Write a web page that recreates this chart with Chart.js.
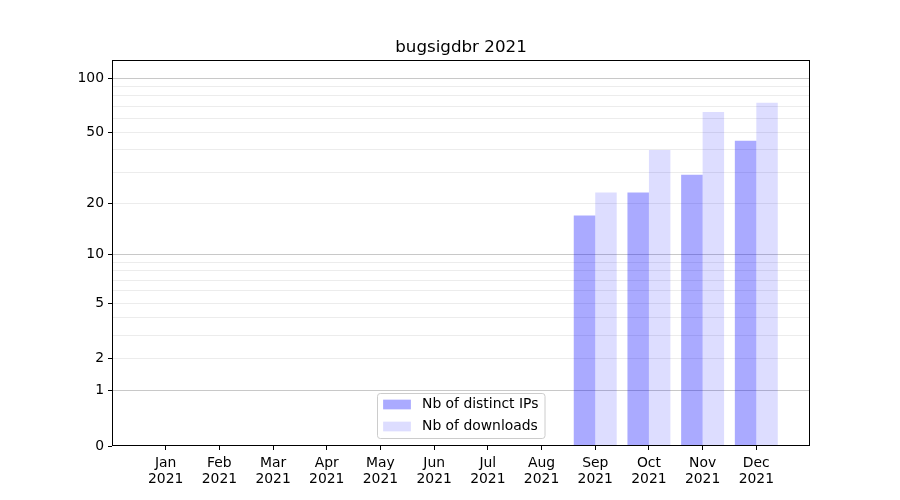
<!DOCTYPE html>
<html>
<head>
<meta charset="utf-8">
<script src="https://cdn.jsdelivr.net/npm/chart.js@4"></script>
<style>
  html, body { margin: 0; padding: 0; background: #ffffff; }
  #wrap { width: 900px; height: 500px; }
</style>
</head>
<body>
<div id="wrap"><canvas id="c" width="900" height="500"></canvas></div>
<script>
// ---- data ----
const chartTitle = 'bugsigdbr 2021';
const months = ['Jan', 'Feb', 'Mar', 'Apr', 'May', 'Jun', 'Jul', 'Aug', 'Sep', 'Oct', 'Nov', 'Dec'];
const year = '2021';
const distinctIPs = [0, 0, 0, 0, 0, 0, 0, 0, 17, 23, 29, 45];
const downloads = [0, 0, 0, 0, 0, 0, 0, 0, 23, 40, 65, 73];
const seriesNames = ['Nb of distinct IPs', 'Nb of downloads'];
const yLabelTicks = [0, 1, 2, 5, 10, 20, 50, 100];
const yMajorGrid = [1, 10, 100];
const yMinorTicks = [3, 4, 6, 7, 8, 9, 30, 40, 60, 70, 80, 90];
const yAxisMax = 125.6;

// log(1+x) transform used by the reference's y axis
const tf = v => Math.log10(v + 1);

const FONT = "'DejaVu Sans', 'Liberation Sans', sans-serif";
const FS = 13.9;

const xLabels = [''].concat(months.map(m => [m, year])).concat(['']);
const pad = arr => [null].concat(arr.map(tf)).concat([null]);

const allYTicks = yLabelTicks.concat(yMinorTicks).sort((a, b) => a - b);

const colors = ['rgba(0,0,255,0.333)', 'rgba(0,0,255,0.133)'];

const framePlugin = {
  id: 'frame',
  afterDraw(chart) {
    const ctx = chart.ctx, a = chart.chartArea;
    ctx.save();
    // title
    ctx.fillStyle = '#000';
    ctx.font = `16.7px ${FONT}`;
    ctx.textAlign = 'center';
    ctx.textBaseline = 'alphabetic';
    ctx.fillText(chartTitle, (a.left + a.right) / 2, a.top - 8.3);
    // axes box
    ctx.strokeStyle = '#000';
    ctx.lineWidth = 1;
    ctx.strokeRect(Math.round(a.left) + 0.5, Math.round(a.top) + 0.5,
                   Math.round(a.right - a.left) - 1, Math.round(a.bottom - a.top) - 1);
    // legend (lower center, inside axes)
    ctx.font = `${FS}px ${FONT}`;
    const patchW = 27.8, patchH = 9.7, textPad = 11.1, bpad = 5.6, rowH = 22;
    const tw = Math.max(...seriesNames.map(s => ctx.measureText(s).width));
    const w = bpad + patchW + textPad + tw + bpad + 1;
    const h = rowH * seriesNames.length + 1;
    const cx = (a.left + a.right) / 2;
    const x0 = Math.round(cx - w / 2) + 0.5;
    const y0 = Math.round(a.bottom - 8 - h) + 0.5;
    const r = 2.8;
    ctx.beginPath();
    ctx.moveTo(x0 + r, y0);
    ctx.lineTo(x0 + w - r, y0);
    ctx.quadraticCurveTo(x0 + w, y0, x0 + w, y0 + r);
    ctx.lineTo(x0 + w, y0 + h - r);
    ctx.quadraticCurveTo(x0 + w, y0 + h, x0 + w - r, y0 + h);
    ctx.lineTo(x0 + r, y0 + h);
    ctx.quadraticCurveTo(x0, y0 + h, x0, y0 + h - r);
    ctx.lineTo(x0, y0 + r);
    ctx.quadraticCurveTo(x0, y0, x0 + r, y0);
    ctx.closePath();
    ctx.fillStyle = 'rgba(255,255,255,0.8)';
    ctx.fill();
    ctx.strokeStyle = '#cccccc';
    ctx.stroke();
    seriesNames.forEach((name, i) => {
      const cy = y0 + 11 + i * rowH;
      ctx.fillStyle = colors[i];
      ctx.fillRect(x0 + bpad, cy - patchH / 2, patchW, patchH);
      ctx.fillStyle = '#000';
      ctx.textAlign = 'left';
      ctx.textBaseline = 'middle';
      ctx.fillText(name, x0 + bpad + patchW + textPad, cy);
    });
    ctx.restore();
  }
};

new Chart(document.getElementById('c'), {
  type: 'bar',
  data: {
    labels: xLabels,
    datasets: [
      { label: seriesNames[0], data: pad(distinctIPs), backgroundColor: colors[0], borderWidth: 0 },
      { label: seriesNames[1], data: pad(downloads), backgroundColor: colors[1], borderWidth: 0 }
    ]
  },
  options: {
    responsive: false,
    animation: false,
    events: [],
    devicePixelRatio: 1,
    layout: { padding: { left: 62, right: 90, top: 60, bottom: 0 } },
    datasets: { bar: { barPercentage: 1.0, categoryPercentage: 0.8 } },
    plugins: {
      legend: { display: false },
      title: { display: false },
      tooltip: { enabled: false }
    },
    scales: {
      x: {
        type: 'category',
        offset: false,
        border: { display: false },
        grid: {
          display: true,
          offset: false,
          drawOnChartArea: false,
          drawTicks: true,
          tickLength: 4,
          tickColor: c => (c.index === 0 || c.index === xLabels.length - 1) ? 'rgba(0,0,0,0)' : '#000'
        },
        ticks: {
          autoSkip: false,
          maxRotation: 0,
          minRotation: 0,
          padding: 5,
          color: '#000',
          font: { family: FONT, size: FS, lineHeight: 1.17 }
        },
        afterFit: s => { s.height = 54; }
      },
      y: {
        type: 'linear',
        min: 0,
        max: tf(yAxisMax),
        border: { display: false },
        afterBuildTicks: s => { s.ticks = allYTicks.map(v => ({ value: tf(v) })); },
        grid: {
          drawTicks: true,
          tickLength: 4,
          lineWidth: 1,
          color: c => {
            const v = allYTicks[c.index];
            if (v === 0) return 'rgba(0,0,0,0)';
            return yMajorGrid.includes(v) ? '#c8c8c8' : '#ececec';
          },
          tickColor: c => yLabelTicks.includes(allYTicks[c.index]) ? '#000' : 'rgba(0,0,0,0)'
        },
        ticks: {
          autoSkip: false,
          padding: 4,
          color: '#000',
          font: { family: FONT, size: FS },
          callback: (val, i) => yLabelTicks.includes(allYTicks[i]) ? String(allYTicks[i]) : ''
        },
        afterFit: s => { s.width = 50; }
      }
    }
  },
  plugins: [framePlugin]
});
</script>
</body>
</html>
